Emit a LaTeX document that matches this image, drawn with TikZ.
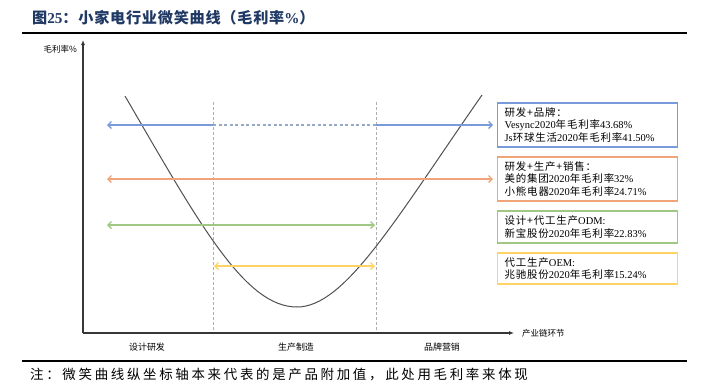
\documentclass[tikz,border=0pt]{standalone}
\usepackage{fontspec}
\setmainfont{Liberation Serif}
\newfontfamily\cjk{Noto Sans CJK SC}
\newfontfamily\cjkbox[LetterSpace=8]{Noto Sans CJK SC}
\newfontfamily\cjktitle[LetterSpace=5]{Noto Sans CJK SC}
\newfontfamily\cjknote[LetterSpace=20]{Noto Sans CJK SC}
\usetikzlibrary{arrows.meta}
\definecolor{titleblue}{RGB}{31,56,100}
\definecolor{cblue}{RGB}{122,155,218}
\definecolor{cbluedash}{RGB}{150,168,200}
\definecolor{corange}{RGB}{240,165,120}
\definecolor{cgreen}{RGB}{160,200,130}
\definecolor{cyellow}{RGB}{255,212,100}
\definecolor{axisgray}{RGB}{55,55,55}
\definecolor{curvegray}{RGB}{80,80,80}
\definecolor{vgray}{RGB}{175,175,175}
\tikzset{
  infobox/.style={draw=#1, line width=1.2bp, fill=white, anchor=west, align=left,
    text width=166bp, inner xsep=7bp, inner ysep=2bp,
    font=\fontsize{10.5}{12.5}\selectfont},
  colarrow/.style={draw=#1, line width=1.4bp},
  axisline/.style={draw=axisgray, line width=1.2bp},
  vdash/.style={draw=vgray, line width=1bp, dash pattern=on 3bp off 2bp},
  rule/.style={draw=black, line width=1.8bp},
  smalllbl/.style={font=\fontsize{8.5}{10}\selectfont\cjk},
}
\begin{document}
\begin{tikzpicture}[x=1bp,y=-1bp]
\useasboundingbox (0,0) rectangle (709,390);
% title
\node[anchor=west, text=titleblue, font=\fontsize{15.2}{16}\selectfont\bfseries, inner sep=0] (title) at (32,18)
  {{\cjktitle 图}25{\cjktitle ：小家电行业微笑曲线（毛利率}\%{\cjktitle ）}};
\coordinate (r1a) at (22,33); \coordinate (r1b) at (687,33);
\draw[rule] (r1a) -- (r1b);
\coordinate (r2a) at (22,361); \coordinate (r2b) at (687,361);
\draw[rule] (r2a) -- (r2b);
\node[anchor=west, inner sep=0, font=\fontsize{13.5}{15}\selectfont\cjknote] (note) at (30,375)
  {注：微笑曲线纵坐标轴本来代表的是产品附加值，此处用毛利率来体现};

% axes
\coordinate (O) at (83,333); \coordinate (Ytop) at (83,40); \coordinate (Xend) at (514,333);
\draw[axisline, -{Latex[length=5bp,width=4bp]}] (O) -- (Ytop);
\draw[axisline, -{Latex[length=5bp,width=4bp]}] (O) -- (Xend);
\node[smalllbl, anchor=east, inner sep=0] (ylbl) at (77,49) {毛利率\%};
\node[smalllbl, anchor=west, inner sep=0] (xlbl) at (522,333) {产业链环节};
\node[smalllbl, font=\fontsize{9}{10}\selectfont\cjk] (s1) at (147,347) {设计研发};
\node[smalllbl, font=\fontsize{9}{10}\selectfont\cjk] (s2) at (296,347) {生产制造};
\node[smalllbl, font=\fontsize{9}{10}\selectfont\cjk] (s3) at (442,347) {品牌营销};

% vertical dashed dividers
\coordinate (v1t) at (213,102); \coordinate (v1b) at (213,332);
\coordinate (v2t) at (376,102); \coordinate (v2b) at (376,332);
\draw[vdash] (v1t) -- (v1b);
\draw[vdash] (v2t) -- (v2b);

% boxes
\node[infobox=cblue, minimum height=44bp] (bb) at (497,125)
  {{\cjkbox 研发+品牌：}\\Vesync2020{\cjkbox 年毛利率}43.68\%\\Js{\cjkbox 环球生活}2020{\cjkbox 年毛利率}41.50\%};
\node[infobox=corange, minimum height=44bp] (ob) at (497,179)
  {{\cjkbox 研发+生产+销售：}\\{\cjkbox 美的集团}2020{\cjkbox 年毛利率}32\%\\{\cjkbox 小熊电器}2020{\cjkbox 年毛利率}24.71\%};
\node[infobox=cgreen, minimum height=32bp] (gb) at (497,227)
  {{\cjkbox 设计+代工生产}ODM:\\{\cjkbox 新宝股份}2020{\cjkbox 年毛利率}22.83\%};
\node[infobox=cyellow, minimum height=31bp] (yb) at (497,268.5)
  {{\cjkbox 代工生产}OEM:\\{\cjkbox 兆驰股份}2020{\cjkbox 年毛利率}15.24\%};

% curve
\draw[curvegray, line width=1bp] (125,96) .. controls (200,225) and (245,307) .. (297,307)
  .. controls (345,307) and (395,220) .. (482,95);

% blue arrow
\coordinate (bL) at (107,125); \coordinate (bM1) at (213,125); \coordinate (bM2) at (376,125);
\draw[colarrow=cblue, {Straight Barb[length=3.5bp,width=7bp]}-] (bL) -- (bM1);
\draw[draw=cbluedash, line width=1.3bp, dash pattern=on 3bp off 2.5bp] (bM1) -- (bM2);
\draw[colarrow=cblue, -{Straight Barb[length=3.5bp,width=7bp]}, shorten >=4bp] (bM2) -- (bb.west);
% orange arrow
\coordinate (oL) at (107,179);
\draw[colarrow=corange, {Straight Barb[length=3.5bp,width=7bp]}-{Straight Barb[length=3.5bp,width=7bp]}, shorten >=4bp] (oL) -- (ob.west);
% green arrow
\coordinate (gL) at (107,225); \coordinate (gR) at (375,225);
\draw[colarrow=cgreen, {Straight Barb[length=3.5bp,width=7bp]}-{Straight Barb[length=3.5bp,width=7bp]}] (gL) -- (gR);
% yellow arrow
\coordinate (yL) at (214,266); \coordinate (yR) at (375,266);
\draw[colarrow=cyellow, {Straight Barb[length=3.5bp,width=7bp]}-{Straight Barb[length=3.5bp,width=7bp]}] (yL) -- (yR);
\end{tikzpicture}
\end{document}
